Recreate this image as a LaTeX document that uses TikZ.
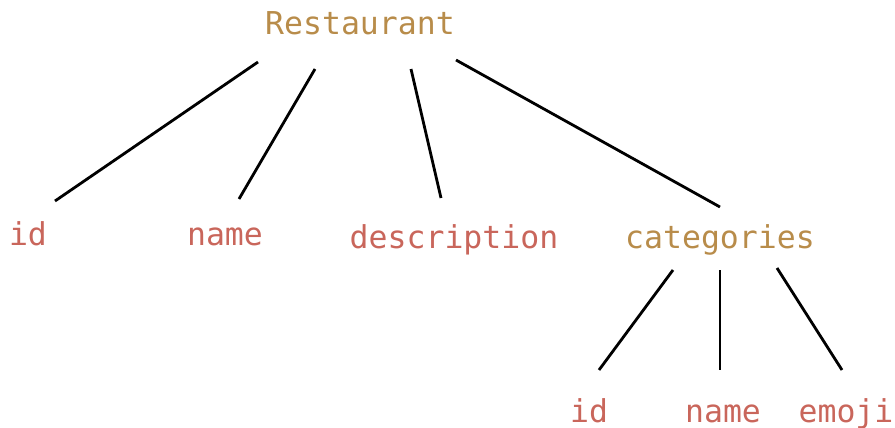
\documentclass[tikz,border=0pt]{standalone}
\usepackage{fontspec}
\setmonofont{DejaVu Sans Mono}
\usetikzlibrary{calc}
\definecolor{gold}{HTML}{B88C4A}
\definecolor{rust}{HTML}{C9665B}
\begin{document}
\begin{tikzpicture}[x=1pt,y=-1pt,
  lbl/.style={font=\ttfamily\fontsize{31.5}{31.5}\selectfont, anchor=base, inner sep=0pt},
  parent/.style={lbl,text=gold},
  leaf/.style={lbl,text=rust},
  edge/.style={line width=2.8pt, black}]
\useasboundingbox (0,0) rectangle (895,428);
\node[parent] (R) at (360,35) {Restaurant};
\node[leaf] (id1) at (28,245) {id};
\node[leaf] (name1) at (225,245) {name};
\node[leaf] (desc) at (454,248) {description};
\node[parent] (cat) at (720,248) {categories};
\node[leaf] (id2) at (589,422) {id};
\node[leaf] (name2) at (723,422) {name};
\node[leaf] (emoji) at (846,422) {emoji};
\draw[edge] ($(R.base)+(-102,27)$) -- ($(id1.base)+(27,-44)$);
\draw[edge] ($(R.base)+(-45,34)$) -- ($(name1.base)+(14,-46)$);
\draw[edge] ($(R.base)+(51,34)$) -- ($(desc.base)+(-13,-50)$);
\draw[edge] ($(R.base)+(96,25)$) -- ($(cat.base)+(0,-41)$);
\draw[edge] ($(cat.base)+(-47,22)$) -- ($(id2.base)+(10,-52)$);
\draw[edge] ($(cat.base)+(0,22)$) -- ($(name2.base)+(-3,-52)$);
\draw[edge] ($(cat.base)+(57,20)$) -- ($(emoji.base)+(-4,-52)$);
\end{tikzpicture}
\end{document}
